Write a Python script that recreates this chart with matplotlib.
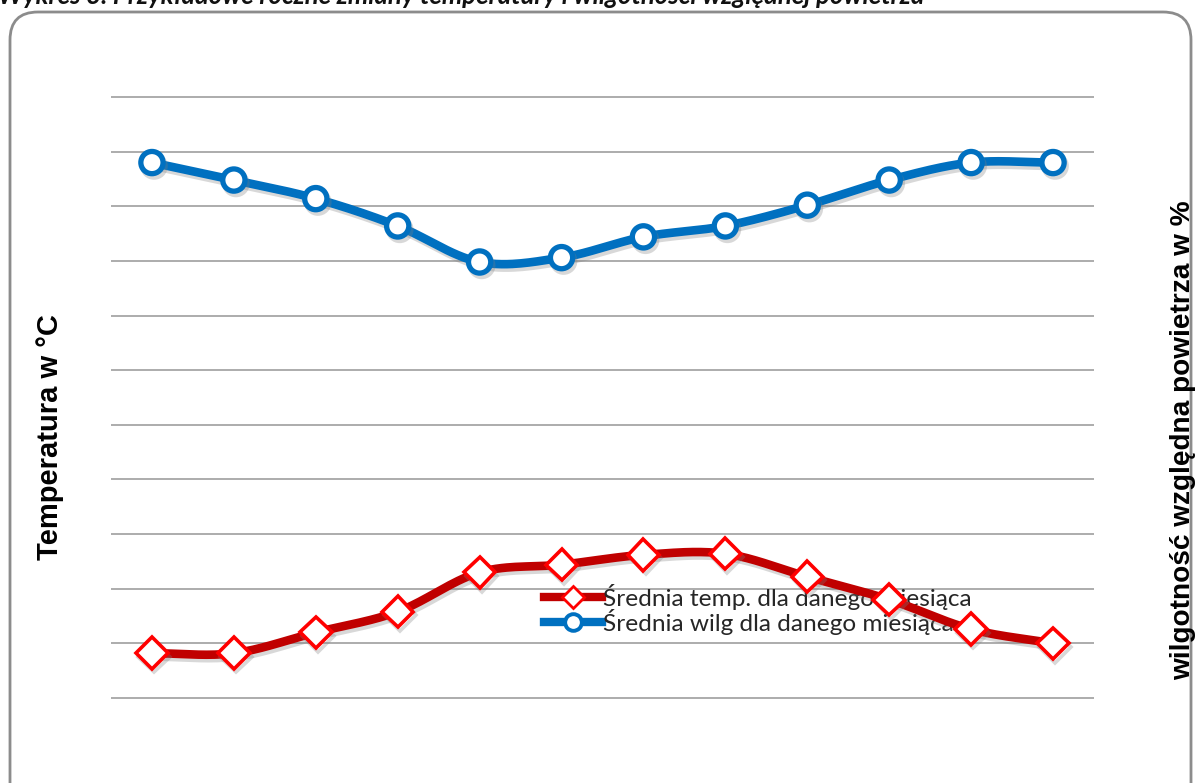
import numpy as np
import matplotlib.pyplot as plt
import matplotlib.patheffects as pe
from matplotlib.patches import FancyBboxPatch

# monthly means
months = np.arange(12)
temp = [-5.9, -5.9, -4.0, -2.1, 1.5, 2.2, 3.1, 3.2, 1.1, -1.0, -3.7, -5.0]
humidity = [89.0, 87.4, 85.7, 83.2, 79.9, 80.3, 82.2, 83.2, 85.1, 87.4, 89.0, 89.0]
temp_ticks = np.arange(-10, 46, 5)
hum_ticks = np.arange(40, 96, 5)

label_temp = 'Średnia temp. dla danego miesiąca'
label_hum = 'Średnia wilg dla danego miesiąca'


def smooth(x, y, n=30):
    # Catmull-Rom curve through the points, like Excel's smoothed lines
    x = np.asarray(x, float)
    y = np.asarray(y, float)
    px = np.concatenate([[2 * x[0] - x[1]], x, [2 * x[-1] - x[-2]]])
    py = np.concatenate([[2 * y[0] - y[1]], y, [2 * y[-1] - y[-2]]])
    xs, ys = [], []
    t = np.linspace(0, 1, n, endpoint=False)
    for i in range(1, len(px) - 2):
        for p, out in ((px, xs), (py, ys)):
            p0, p1, p2, p3 = p[i - 1], p[i], p[i + 1], p[i + 2]
            out.extend(0.5 * (2 * p1 + (-p0 + p2) * t
                              + (2 * p0 - 5 * p1 + 4 * p2 - p3) * t ** 2
                              + (-p0 + 3 * p1 - 3 * p2 + p3) * t ** 3))
    xs.append(x[-1])
    ys.append(y[-1])
    return np.array(xs), np.array(ys)


fig = plt.figure(figsize=(11.95, 7.83), dpi=100)

# rounded frame around the chart
frame = FancyBboxPatch((0.10, -0.3), 11.81, 8.01,
                       boxstyle='round,pad=0,rounding_size=0.28',
                       transform=fig.dpi_scale_trans, facecolor='white',
                       edgecolor='#8c8c8c', linewidth=2, zorder=-10)
fig.patches.append(frame)

fig.text(-0.002, 1 - 4 / 783, 'Wykres 3. Przykładowe roczne zmiany temperatury i wilgotności względnej powietrza',
         family='Lato', style='italic', weight='bold', fontsize=18.5, va='baseline', ha='left',
         color='#111111')

ax = fig.add_axes([111 / 1195, 85 / 783, 983 / 1195, 601 / 783])
ax2 = ax.twinx()
for a in (ax, ax2):
    a.patch.set_visible(False)
    for s in a.spines.values():
        s.set_visible(False)
    a.set_xticks([])
    a.set_yticks([])
ax.set_xlim(-0.5, 11.5)
ax.set_ylim(temp_ticks[0], temp_ticks[-1])
ax2.set_ylim(hum_ticks[0], hum_ticks[-1])

ax.hlines(temp_ticks, -0.5, 11.5, color='#a6a6a6', linewidth=1.3, clip_on=False, zorder=1)

shadow = [pe.SimpleLineShadow(offset=(1.5, -2.5), shadow_color='#808080', alpha=0.3), pe.Normal()]

# humidity
hx, hy = smooth(months, humidity)
ax2.plot(hx, hy, color='#0070c0', linewidth=6.2, solid_capstyle='round',
         path_effects=shadow, zorder=3)
ax2.plot(months, humidity, linestyle='none', marker='o', markersize=16,
         markerfacecolor='white', markeredgecolor='#0070c0', markeredgewidth=3.8,
         path_effects=shadow, zorder=4)

# temperature
tx, ty = smooth(months, temp)
ax.plot(tx, ty, color='#c00000', linewidth=6.2, solid_capstyle='round',
        path_effects=shadow, zorder=3)
ax.plot(months, temp, linestyle='none', marker='D', markersize=16,
        markerfacecolor='white', markeredgecolor='#ff0000', markeredgewidth=2.6,
        path_effects=shadow, zorder=4)

# legend entries
h_t, = ax.plot([], [], color='#c00000', linewidth=6, marker='D', markersize=11,
               markerfacecolor='white', markeredgecolor='#ff0000', markeredgewidth=2)
h_h, = ax.plot([], [], color='#0070c0', linewidth=6, marker='o', markersize=12,
               markerfacecolor='white', markeredgecolor='#0070c0', markeredgewidth=2.8)
leg = ax.legend([h_t, h_h], [label_temp, label_hum], loc='upper left',
                bbox_to_anchor=(0.440, 0.190), frameon=False, prop={'family': 'Lato', 'size': 17.6},
                handlelength=2.4, handletextpad=0.05, labelspacing=-0.05, borderpad=0,
                borderaxespad=0)
leg.set_zorder(2)
for t in leg.get_texts():
    t.set_color('#262626')

fig.text(50 / 1195, 1 - 437 / 783, 'Temperatura w °C', family='Liberation Sans', weight='bold',
         fontsize=21, rotation=90, ha='center', va='center')
fig.text(1183 / 1195, 1 - 440 / 783, 'wilgotność względna powietrza w %', family='Liberation Sans',
         weight='bold', fontsize=20.2, rotation=90, ha='center', va='center')

fig.savefig('out.png', dpi=100)
